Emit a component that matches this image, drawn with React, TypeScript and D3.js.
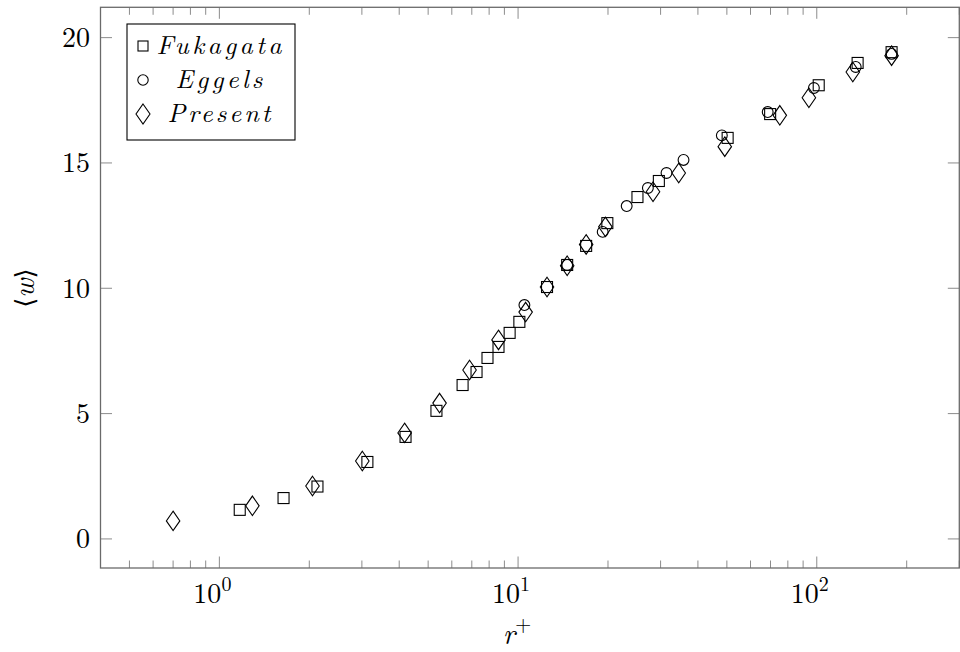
import React from "react";
import * as d3 from "d3";

// Fukagata (squares)
const fukX = [1.17, 1.64, 2.13, 3.13, 4.2, 5.33, 6.52, 7.26, 7.9, 8.6, 9.37, 10.1, 12.5, 14.6, 16.9, 19.9, 25.1, 29.6, 50.3, 69.8, 101.5, 137, 178];
const fukY = [1.16, 1.63, 2.09, 3.07, 4.07, 5.11, 6.14, 6.66, 7.22, 7.66, 8.22, 8.66, 10.05, 10.93, 11.69, 12.6, 13.64, 14.28, 16.0, 16.95, 18.1, 18.99, 19.42];
// Eggels (circles)
const eggX = [10.5, 14.6, 19.2, 23.1, 27.2, 31.4, 35.8, 48.1, 68.5, 97.8, 135, 178];
const eggY = [9.33, 10.93, 12.25, 13.28, 14.0, 14.6, 15.12, 16.1, 17.03, 17.99, 18.83, 19.35];
// Present (diamonds)
const preX = [0.7, 1.29, 2.05, 3.01, 4.17, 5.46, 6.88, 8.6, 10.6, 12.5, 14.6, 16.9, 19.6, 28.3, 34.5, 49.2, 75.2, 94.1, 132, 178];
const preY = [0.72, 1.32, 2.11, 3.11, 4.23, 5.42, 6.74, 7.94, 9.05, 10.05, 10.9, 11.75, 12.45, 13.85, 14.6, 15.65, 16.9, 17.6, 18.63, 19.28];

const yTicks = [0, 5, 10, 15, 20];
const xMajor = [1, 10, 100];
const xMajorExp = ["0", "1", "2"];
const legendLabels = ["Fukagata", "Eggels", "Present"];

const W = 960, H = 652;
const L = 100.5, R = 959.3, T = 7.3, B = 568;
const FONT = "'Latin Modern Roman', 'CMU Serif', 'Liberation Serif', serif";

const Square = ({ cx, cy, s = 11 }: any) => (
  <rect x={cx - s / 2} y={cy - s / 2} width={s} height={s} fill="none" stroke="#000" strokeWidth={1.1} />
);
const Circle = ({ cx, cy, r = 5.4 }: any) => (
  <circle cx={cx} cy={cy} r={r} fill="none" stroke="#000" strokeWidth={1.1} />
);
const Diamond = ({ cx, cy, w = 13.5, h = 19.5 }: any) => (
  <path d={`M${cx},${cy - h / 2}L${cx + w / 2},${cy}L${cx},${cy + h / 2}L${cx - w / 2},${cy}Z`} fill="none" stroke="#000" strokeWidth={1.1} />
);

export default function App() {
  const x = d3.scaleLog().domain([0.4, 300]).range([L, R]);
  const y = d3.scaleLinear().domain([-1.16, 21.21]).range([B, T]);

  const minor: number[] = [];
  for (const dec of [0.1, 1, 10, 100]) {
    for (let k = 2; k <= 9; k++) {
      const v = k * dec;
      if (v >= 0.4 && v <= 300) minor.push(v);
    }
  }

  const tickColor = "#8c8c8c";
  const legendRows = [46, 80, 114];
  const legendText = [125, 87, 103];

  return (
    <svg width={W} height={H} style={{ position: "absolute", left: 0, top: 0, background: "#fff" }} fontFamily={FONT}>
      <rect x={0} y={0} width={W} height={H} fill="#fff" />
      {/* minor x ticks */}
      {minor.map((v, i) => (
        <g key={"m" + i} stroke={tickColor} strokeWidth={1}>
          <line x1={x(v)} x2={x(v)} y1={B} y2={B - 7.5} />
          <line x1={x(v)} x2={x(v)} y1={T} y2={T + 7.5} />
        </g>
      ))}
      {xMajor.map((v, i) => (
        <g key={"M" + i} stroke={tickColor} strokeWidth={1}>
          <line x1={x(v)} x2={x(v)} y1={B} y2={B - 11.5} />
          <line x1={x(v)} x2={x(v)} y1={T} y2={T + 11.5} />
        </g>
      ))}
      {yTicks.map((v, i) => (
        <g key={"y" + i} stroke={tickColor} strokeWidth={1}>
          <line x1={L} x2={L + 11.5} y1={y(v)} y2={y(v)} />
          <line x1={R} x2={R - 11.5} y1={y(v)} y2={y(v)} />
        </g>
      ))}
      <rect x={L} y={T} width={R - L} height={B - T} fill="none" stroke="#6a6a6a" strokeWidth={1.3} />

      {/* tick labels */}
      {yTicks.map((v, i) => (
        <text key={"yl" + i} x={90} y={y(v) + 9.5} textAnchor="end" fontSize={28} fill="#000">{v}</text>
      ))}
      {xMajor.map((v, i) => (
        <text key={"xl" + i} x={x(v) - 7} y={603} textAnchor="middle" fontSize={28} fill="#000">
          10<tspan fontSize={20} dy={-12}>{xMajorExp[i]}</tspan>
        </text>
      ))}

      {/* axis labels */}
      <text x={517} y={644} textAnchor="middle" fontSize={29} fill="#000">
        <tspan fontStyle="italic">r</tspan><tspan fontSize={21} dy={-13}>+</tspan>
      </text>
      <text transform={`translate(34,288) rotate(-90)`} textAnchor="middle" fontSize={29} fill="#000">
        <tspan fontFamily="'DejaVu Serif', serif" fontSize={26}>⟨</tspan><tspan fontStyle="italic">w</tspan><tspan fontFamily="'DejaVu Serif', serif" fontSize={26}>⟩</tspan>
      </text>

      {/* data */}
      {fukX.map((v, i) => <Square key={"f" + i} cx={x(v)} cy={y(fukY[i])} />)}
      {eggX.map((v, i) => <Circle key={"e" + i} cx={x(v)} cy={y(eggY[i])} />)}
      {preX.map((v, i) => <Diamond key={"p" + i} cx={x(v)} cy={y(preY[i])} />)}

      {/* legend */}
      <rect x={127} y={24} width={168} height={116} fill="#fff" stroke="#000" strokeWidth={1.1} />
      <Square cx={143} cy={legendRows[0]} s={10} />
      <Circle cx={143} cy={legendRows[1]} r={5.2} />
      <Diamond cx={143} cy={legendRows[2]} w={14} h={20} />
      {legendLabels.map((t, i) => (
        <text key={"lg" + i} x={219} y={legendRows[i] + 8} textAnchor="middle" fontSize={26} fontStyle="italic" fill="#000"
          textLength={legendText[i]} lengthAdjust="spacing">{t}</text>
      ))}
    </svg>
  );
}
